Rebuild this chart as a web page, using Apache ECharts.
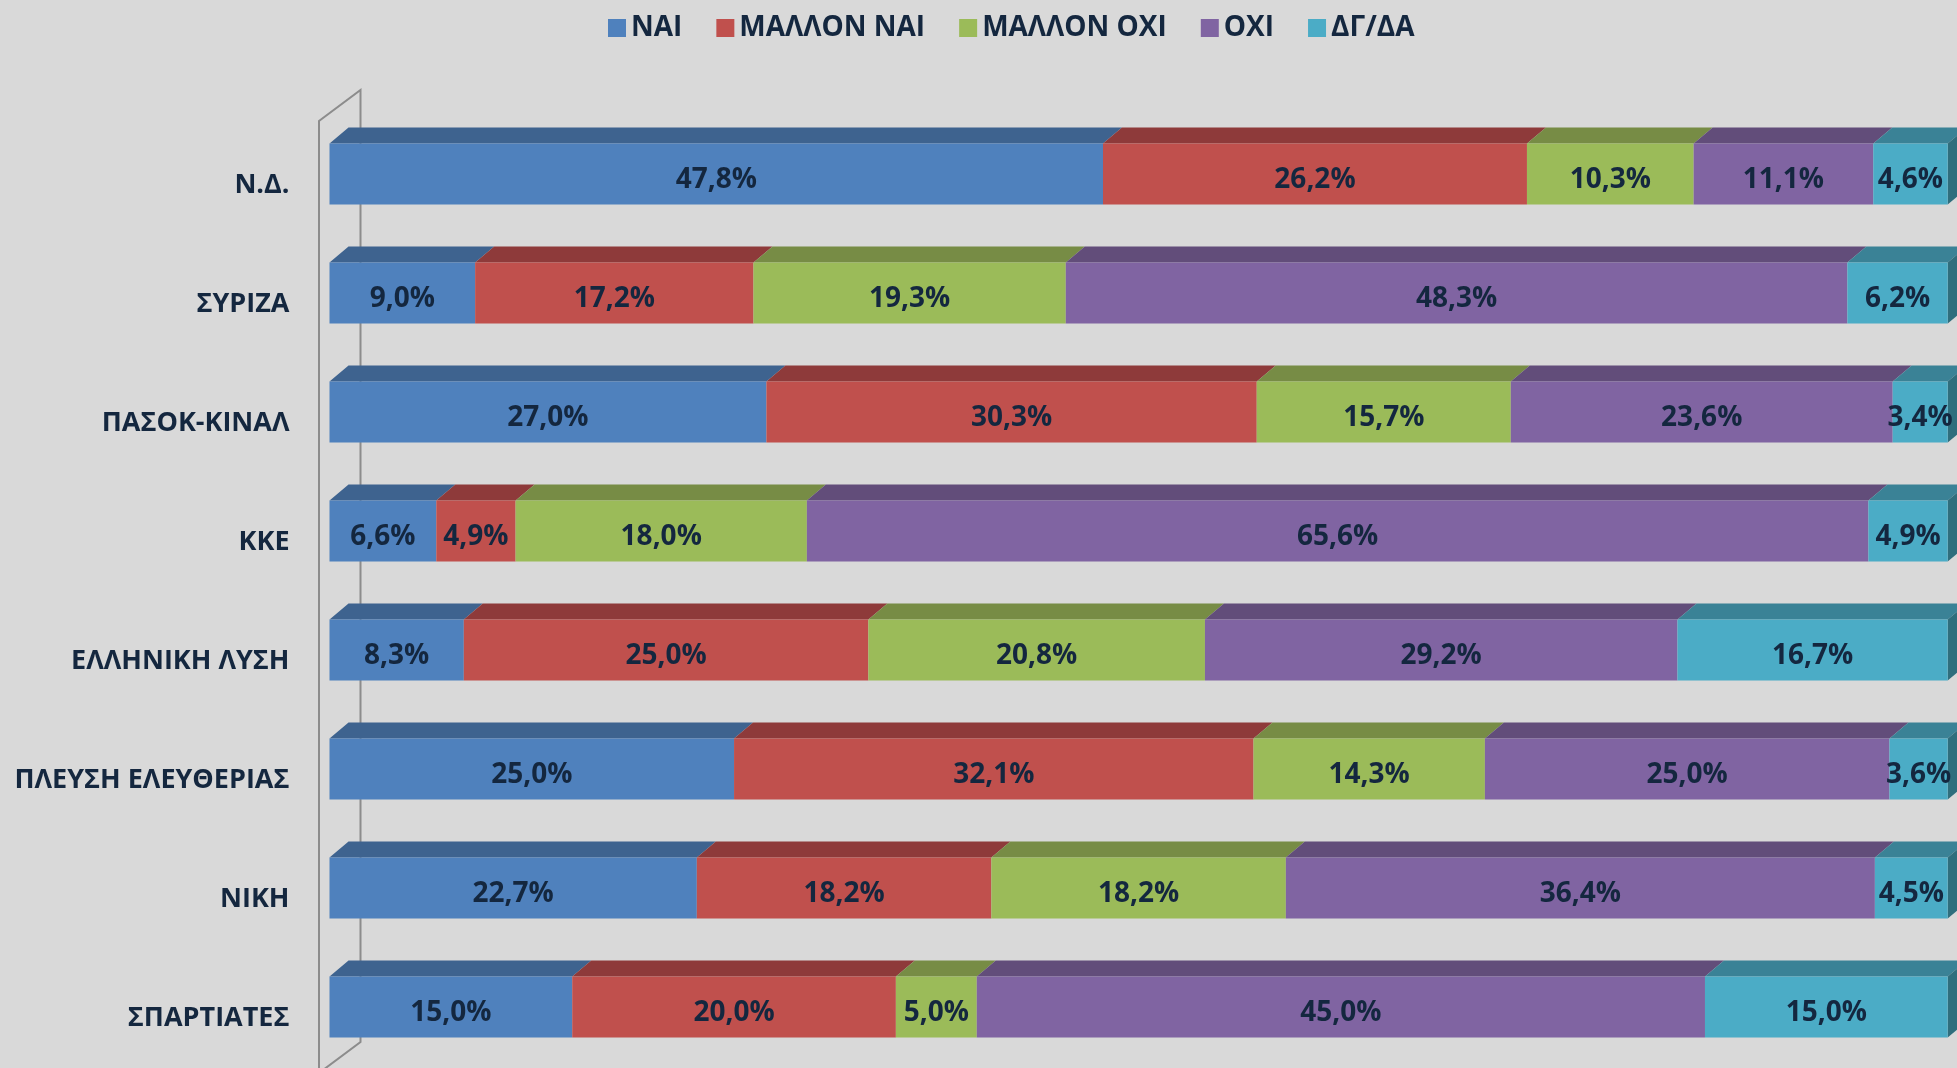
<!DOCTYPE html>
<html>
<head>
<meta charset="utf-8">
<script src="https://cdn.jsdelivr.net/npm/echarts@6/dist/echarts.min.js"></script>
<style>
  html, body { margin: 0; padding: 0; background: #d9d9d9; }
  #chart { width: 1957px; height: 1068px; }
</style>
</head>
<body>
<div id="chart"></div>
<script>
// κατηγορίες και τιμές (%)
var categories = ['Ν.Δ.', 'ΣΥΡΙΖΑ', 'ΠΑΣΟΚ-ΚΙΝΑΛ', 'ΚΚΕ', 'ΕΛΛΗΝΙΚΗ ΛΥΣΗ', 'ΠΛΕΥΣΗ ΕΛΕΥΘΕΡΙΑΣ', 'ΝΙΚΗ', 'ΣΠΑΡΤΙΑΤΕΣ'];
var seriesNames = ['ΝΑΙ', 'ΜΑΛΛΟΝ ΝΑΙ', 'ΜΑΛΛΟΝ ΟΧΙ', 'ΟΧΙ', 'ΔΓ/ΔΑ'];
var nai        = [47.8, 9.0, 27.0, 6.6, 8.3, 25.0, 22.7, 15.0];
var mallonNai  = [26.2, 17.2, 30.3, 4.9, 25.0, 32.1, 18.2, 20.0];
var mallonOxi  = [10.3, 19.3, 15.7, 18.0, 20.8, 14.3, 18.2, 5.0];
var oxi        = [11.1, 48.3, 23.6, 65.6, 29.2, 25.0, 36.4, 45.0];
var dgda       = [4.6, 6.2, 3.4, 4.9, 16.7, 3.6, 4.5, 15.0];
var allValues = [nai, mallonNai, mallonOxi, oxi, dgda];

var frontColors = ['#4f81bd', '#c0504d', '#9bbb59', '#8064a2', '#4bacc6'];
var topColors   = ['#3e638f', '#8e3a3a', '#778c45', '#624d7a', '#3a8296'];
var sideColor   = '#2f6e7d';
var textColor   = '#14273f';

var BAR_W = 61, DX = 19, DY = 16;
var GRID_L = 329.5, GRID_R = 9.3, GRID_T = 114.5, GRID_H = 952;

// σωρευτικά τμήματα για τις πάνω/πλαϊνές έδρες
var faces = [];
categories.forEach(function (c, ci) {
  var acc = 0;
  allValues.forEach(function (arr, si) {
    faces.push([acc, acc + arr[ci], ci, si]);
    acc += arr[ci];
  });
});

var myChart = echarts.init(document.getElementById('chart'));

var series = allValues.map(function (arr, si) {
  return {
    name: seriesNames[si],
    type: 'bar',
    stack: 'total',
    barWidth: BAR_W,
    itemStyle: { color: frontColors[si] },
    label: {
      show: true,
      position: 'inside',
      color: textColor,
      fontFamily: 'Open Sans',
      fontWeight: 'bold',
      fontSize: 28,
      offset: [0, 6],
      formatter: function (p) { return p.value.toFixed(1).replace('.', ',') + '%'; }
    },
    data: arr,
    z: 3
  };
});

series.push({
  type: 'custom',
  name: '3d',
  data: faces,
  encode: { x: [0, 1], y: 2 },
  z: 2,
  silent: true,
  renderItem: function (params, api) {
    var s = api.coord([api.value(0), api.value(2)]);
    var e = api.coord([api.value(1), api.value(2)]);
    var si = api.value(3);
    var top = s[1] - BAR_W / 2;
    var children = [{
      type: 'polygon',
      shape: { points: [[s[0], top], [e[0], top], [e[0] + DX, top - DY], [s[0] + DX, top - DY]] },
      style: { fill: topColors[si] }
    }];
    if (si === seriesNames.length - 1) {
      children.push({
        type: 'polygon',
        shape: { points: [[e[0], top], [e[0] + DX, top - DY], [e[0] + DX, top + BAR_W - DY], [e[0], top + BAR_W]] },
        style: { fill: sideColor }
      });
    }
    return { type: 'group', children: children };
  }
});

var wallColor = '#8c8c8c';
var option = {
  backgroundColor: '#d9d9d9',
  animation: false,
  legend: {
    data: seriesNames,
    left: 603,
    top: 9,
    icon: 'rect',
    itemWidth: 18,
    itemHeight: 18,
    itemGap: 34,
    textStyle: { color: textColor, fontFamily: 'Open Sans', fontWeight: 'bold', fontSize: 28 }
  },
  grid: { left: GRID_L, right: GRID_R, top: GRID_T, height: GRID_H, containLabel: false },
  xAxis: { type: 'value', min: 0, max: 100, show: false },
  yAxis: {
    type: 'category',
    inverse: true,
    data: categories,
    axisLine: { show: false },
    axisTick: { show: false },
    axisLabel: {
      margin: 40,
      color: textColor,
      fontFamily: 'Open Sans',
      fontWeight: 'bold',
      fontSize: 27,
      verticalAlign: 'top',
      lineHeight: 22
    }
  },
  graphic: [
    { type: 'polyline', shape: { points: [[319, 1080], [319, 121], [360.5, 90], [360.5, 1042], [319, 1073]] },
      style: { stroke: wallColor, lineWidth: 2, fill: null }, z: 1 }
  ],
  series: series
};

myChart.setOption(option);
</script>
</body>
</html>
